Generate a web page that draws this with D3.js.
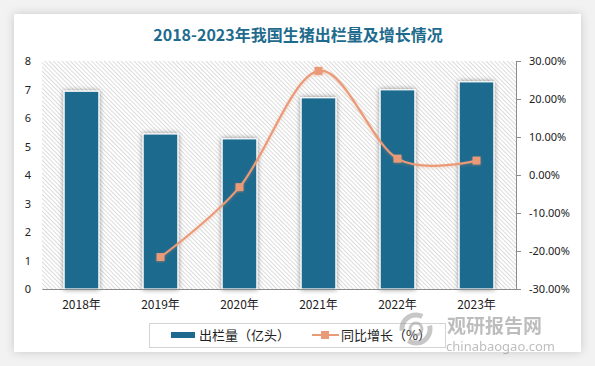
<!DOCTYPE html>
<html><head><meta charset="utf-8">
<script src="https://cdn.jsdelivr.net/npm/d3@7"></script>
<style>
html,body{margin:0;padding:0;background:#f2f2f2;}
svg{display:block;}
</style></head>
<body>
<svg id="chart" width="595" height="366"></svg>
<script>
const years = ["2018年","2019年","2020年","2021年","2022年","2023年"];
const output = [6.94, 5.44, 5.27, 6.71, 6.99, 7.27];
const growth = [null, -21.6, -3.2, 27.4, 4.3, 3.8];
const leftTicks = [0,1,2,3,4,5,6,7,8];
const rightTicks = [-30,-20,-10,0,10,20,30];
const title = "2018-2023年我国生猪出栏量及增长情况";
const legendLabels = ["出栏量（亿头）","同比增长（%）"];

const svg = d3.select("#chart");
const defs = svg.append("defs");

const cs = defs.append("filter").attr("id","cardShadow").attr("x","-10%").attr("y","-10%").attr("width","120%").attr("height","120%");
cs.append("feDropShadow").attr("dx",0).attr("dy",0).attr("stdDeviation",5).attr("flood-color","#000").attr("flood-opacity",0.18);
const bs = defs.append("filter").attr("id","barShadow").attr("x","-40%").attr("y","-20%").attr("width","180%").attr("height","140%");
bs.append("feDropShadow").attr("dx",0).attr("dy",0).attr("stdDeviation",2.5).attr("flood-color","#000").attr("flood-opacity",0.45);
const ls = defs.append("filter").attr("id","lineShadow").attr("x","-20%").attr("y","-20%").attr("width","140%").attr("height","140%");
ls.append("feDropShadow").attr("dx",0).attr("dy",1).attr("stdDeviation",1.5).attr("flood-color","#e08a60").attr("flood-opacity",0.35);

const pat = defs.append("pattern").attr("id","hatch").attr("patternUnits","userSpaceOnUse")
  .attr("width",3).attr("height",3).attr("patternTransform","rotate(-45)");
pat.append("rect").attr("width",3).attr("height",3).attr("fill","#ffffff");
pat.append("line").attr("x1",0.5).attr("y1",0).attr("x2",0.5).attr("y2",3).attr("stroke","#dcdcdc").attr("stroke-width",1);

svg.append("rect").attr("x",14).attr("y",14).attr("width",567).attr("height",338)
  .attr("fill","#fff").attr("filter","url(#cardShadow)");

svg.append("text").attr("x",298).attr("y",41).attr("text-anchor","middle")
  .attr("font-family","'Noto Sans CJK SC', sans-serif").attr("font-weight","bold")
  .attr("font-size",16).attr("fill","#1e6b8d").text(title);

const m = {left:42, right:516, top:61, bottom:289};
const x = d3.scaleBand().domain(years).range([m.left, m.right]).paddingInner(0.56).paddingOuter(0.28);
const yL = d3.scaleLinear().domain([0,8]).range([m.bottom, m.top]);
const yR = d3.scaleLinear().domain([-30,30]).range([m.bottom, m.top]);

svg.append("rect").attr("x",m.left).attr("y",m.top).attr("width",m.right-m.left).attr("height",m.bottom-m.top)
  .attr("fill","url(#hatch)");

svg.append("g").selectAll("rect").data(output).join("rect")
  .attr("x",(d,i)=>x(years[i])).attr("y",d=>yL(d))
  .attr("width",x.bandwidth()).attr("height",d=>yL(0)-yL(d))
  .attr("fill","#1d6a8e").attr("stroke","#fff").attr("stroke-width",1.2)
  .attr("filter","url(#barShadow)");

const font = "'Noto Sans', 'DejaVu Sans', sans-serif";
const gL = svg.append("g").attr("transform",`translate(${m.left},0)`)
  .call(d3.axisLeft(yL).tickValues(leftTicks).tickSize(0).tickPadding(11));
gL.select(".domain").remove();
gL.selectAll("text").attr("font-family",font).attr("font-size",11).attr("fill","#222");

const gR = svg.append("g").attr("transform",`translate(${m.right},0)`)
  .call(d3.axisRight(yR).tickValues(rightTicks).tickSize(5).tickPadding(8).tickFormat(d=>d.toFixed(2)+"%"));
gR.select(".domain").attr("stroke","#8c8c8c");
gR.selectAll(".tick line").attr("stroke","#8c8c8c");
gR.selectAll("text").attr("font-family",font).attr("font-size",11).attr("fill","#222");

const gB = svg.append("g").attr("transform",`translate(0,${m.bottom})`)
  .call(d3.axisBottom(x).tickSize(0).tickPadding(11));
gB.select(".domain").attr("stroke","#8c8c8c").attr("stroke-width",1.2);
gB.selectAll("text").attr("font-family","'Noto Sans CJK SC', sans-serif").attr("font-size",12).attr("fill","#222");

const pts = growth.map((g,i)=>({g,i})).filter(d=>d.g!==null);
const cx = d => x(years[d.i]) + x.bandwidth()/2;
const line = d3.line().x(cx).y(d=>yR(d.g)).curve(d3.curveCatmullRom.alpha(0));
svg.append("path").datum(pts).attr("d",line).attr("fill","none")
  .attr("stroke","#eb9a78").attr("stroke-width",2.2).attr("filter","url(#lineShadow)");
svg.append("g").selectAll("rect").data(pts).join("rect")
  .attr("x",d=>cx(d)-4).attr("y",d=>yR(d.g)-4).attr("width",8).attr("height",8)
  .attr("fill","#eb9a78").attr("filter","url(#lineShadow)");

const lg = svg.append("g");
lg.append("rect").attr("x",149.5).attr("y",323.5).attr("width",296).attr("height",24)
  .attr("fill","#fff").attr("stroke","#d4d4d4");
lg.append("rect").attr("x",171).attr("y",332).attr("width",24).attr("height",6).attr("fill","#1d6a8e");
lg.append("text").attr("x",199).attr("y",340).attr("font-family","'Noto Sans CJK SC', sans-serif")
  .attr("font-size",13).attr("fill","#222").text(legendLabels[0]);
lg.append("line").attr("x1",312).attr("x2",339).attr("y1",335).attr("y2",335).attr("stroke","#eb9a78").attr("stroke-width",2);
lg.append("rect").attr("x",321).attr("y",331).attr("width",8).attr("height",8).attr("fill","#eb9a78");
lg.append("text").attr("x",341).attr("y",340).attr("font-family","'Noto Sans CJK SC', sans-serif")
  .attr("font-size",13).attr("fill","#222").text(legendLabels[1]);

const wm = svg.append("g").attr("opacity",0.55);
wm.append("circle").attr("cx",416).attr("cy",329).attr("r",14).attr("fill","none").attr("stroke","#9a9a9a").attr("stroke-width",5).attr("stroke-dasharray","30 12");
wm.append("circle").attr("cx",416).attr("cy",329).attr("r",6).attr("fill","none").attr("stroke","#9a9a9a").attr("stroke-width",3);
wm.append("text").attr("x",447).attr("y",333).attr("font-family","'Noto Sans CJK SC', sans-serif").attr("font-weight","bold")
  .attr("font-size",19).attr("fill","#888").text("观研报告网");
wm.append("text").attr("x",446).attr("y",351).attr("font-family","'Noto Sans', sans-serif")
  .attr("font-size",13).attr("fill","#888").text("chinabaogao.com");
</script>
</body></html>
